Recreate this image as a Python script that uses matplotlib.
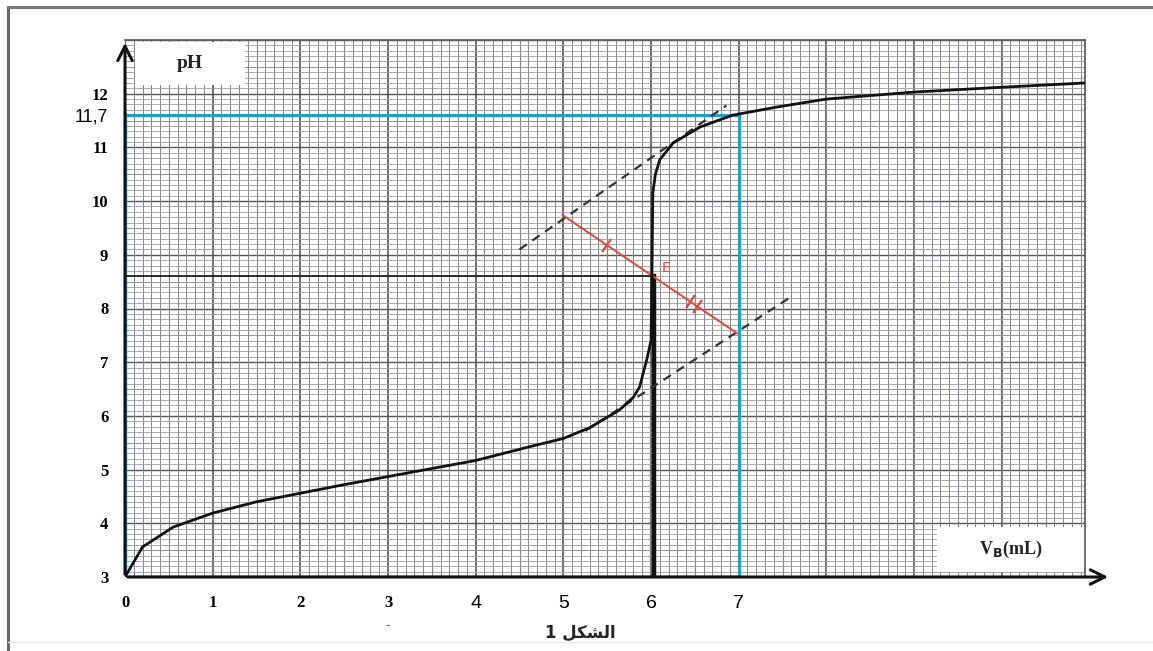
import matplotlib

matplotlib.use("Agg")
import matplotlib.pyplot as plt
from matplotlib.patches import Rectangle
from matplotlib.ticker import MultipleLocator

# titration curve
VB = [0, 0.2, 0.55, 1.0, 1.5, 2.0, 2.5, 3.0, 3.5, 4.0, 4.6, 5.0, 5.3, 5.64, 5.8, 5.87, 5.95,
      6.0, 6.01, 6.02, 6.05, 6.1, 6.25, 6.56, 6.93, 7.43, 8.0, 9.0, 10.0, 10.95]
PH = [3.0, 3.56, 3.93, 4.19, 4.4, 4.56, 4.72, 4.87, 5.02, 5.17, 5.42, 5.58, 5.78, 6.11, 6.35, 6.54, 7.04,
      7.4, 8.6, 10.15, 10.5, 10.77, 11.08, 11.38, 11.6, 11.75, 11.9, 12.03, 12.12, 12.2]

# construction lines (parallel tangents, perpendicular segment, equivalence point)
TAN_UP_X, TAN_UP_Y = [4.5, 6.86], [9.1, 11.78]
TAN_LO_X, TAN_LO_Y = [5.25, 7.58], [5.72, 8.2]
SEG_X, SEG_Y = [4.99, 6.98], [9.74, 7.54]
VE, PHE = 6.03, 8.6
V_END, PH_END = 7.0, 11.6  # marked "11,7" on the sheet

XTICKS = [0, 1, 2, 3, 4, 5, 6, 7]
YTICKS = [3, 4, 5, 6, 7, 8, 9, 10, 11, 12]
CAPTION = "الشكل 1"

CYAN, RED, INK = "#1fa0cc", "#e0483f", "#111111"
FORMS = {"ا": ("\ufe8d", "\ufe8e", None, None), "ل": ("\ufedd", "\ufede", "\ufedf", "\ufee0"),
         "ش": ("\ufeb5", "\ufeb6", "\ufeb7", "\ufeb8"), "ك": ("\ufed9", "\ufeda", "\ufedb", "\ufedc")}


def shape(text):
    # tiny arabic shaper + visual reordering, matplotlib draws left to right
    out = []
    for word in text.split(" "):
        if word and word[0] in FORMS:
            glyphs = []
            for i, ch in enumerate(word):
                prev = i > 0 and FORMS[word[i - 1]][2] is not None
                nxt = i < len(word) - 1 and FORMS[ch][2] is not None
                iso, fin, ini, med = FORMS[ch]
                glyphs.append(med if prev and nxt else fin if prev else ini if nxt else iso)
            out.append("".join(reversed(glyphs)))
        else:
            out.append(word)
    return " ".join(reversed(out))


def main():
    fig = plt.figure(figsize=(11.53, 6.51), dpi=100)
    fig.patch.set_facecolor("white")
    ax = fig.add_axes([125 / 1153, 74 / 651, 960 / 1153, 537 / 651])
    ax.set_xlim(0, 10.95); ax.set_ylim(3, 13)

    # graph paper
    ax.xaxis.set_minor_locator(MultipleLocator(0.1)); ax.yaxis.set_minor_locator(MultipleLocator(0.1))
    ax.grid(which="minor", axis="x", color="#858590", lw=0.7)
    ax.grid(which="minor", axis="y", color="#9a9aa0", lw=0.6)
    for v in [x * 0.5 for x in range(22)]:
        ax.axvline(v, color="#444" if v % 1 == 0 else "#666", lw=1.1 if v % 1 == 0 else 0.8, zorder=0.5)
    for v in [3 + y * 0.5 for y in range(21)]:
        ax.axhline(v, color="#555" if v % 1 == 0 else "#777", lw=1.0 if v % 1 == 0 else 0.7, zorder=0.5)
    ax.set_axisbelow(True)
    for s in ["top", "right"]:
        ax.spines[s].set_color("#555"); ax.spines[s].set_linewidth(1.2)
    for s in ["left", "bottom"]:
        ax.spines[s].set_visible(False)

    # label boxes punched out of the grid
    ax.add_patch(Rectangle((0.11, 12.16), 1.26, 0.8, fc="white", ec="none", zorder=1))
    ax.add_patch(Rectangle((9.26, 3.09), 1.69, 0.84, fc="white", ec="none", zorder=1))
    ax.text(0.74, 12.57, "pH", ha="center", va="center", fontsize=14, fontweight="bold",
            family="Liberation Serif", color="#222", zorder=2)
    ax.text(10.1, 3.52, r"V$_{\mathbf{B}}$(mL)", ha="center", va="center", fontsize=13, fontweight="bold",
            family="Liberation Serif", color="#222", zorder=2)

    # reading lines
    ax.plot([0, V_END, V_END], [PH_END, PH_END, 3], color=CYAN, lw=2.2, zorder=3)
    ax.plot([0, 0], [3, PH_END], color=CYAN, lw=2.5, zorder=3)
    ax.plot([0, V_END], [3, 3], color="#16606e", lw=2.5, zorder=3)
    ax.plot([0, VE], [PHE, PHE], color=INK, lw=1.2, zorder=3)
    ax.plot([VE, VE], [3, PHE], color=INK, lw=3.2, zorder=3)

    # tangents and perpendicular
    ax.plot(TAN_UP_X, TAN_UP_Y, color="#333", lw=1.6, ls=(0, (4, 3)), zorder=4)
    ax.plot(TAN_LO_X, TAN_LO_Y, color="#333", lw=1.6, ls=(0, (4, 3)), zorder=4)
    ax.plot(SEG_X, SEG_Y, color=RED, lw=1.4, zorder=4)
    for t in [0.25, 0.73, 0.77]:
        ax.plot(SEG_X[0] + t * (SEG_X[1] - SEG_X[0]), SEG_Y[0] + t * (SEG_Y[1] - SEG_Y[0]),
                marker=(2, 2, -34), ms=11, mew=1.3, color=RED, zorder=4)
    ax.text(6.17, 8.75, "E", color=RED, fontsize=10, ha="center", va="center", zorder=5)

    ax.plot(VB, PH, color=INK, lw=2.0, zorder=5)

    # axes with arrow heads
    ax.annotate("", xy=(0, 1.0), xytext=(0, 0), xycoords="axes fraction",
                arrowprops=dict(arrowstyle="->", lw=2.2, color=INK, mutation_scale=26), zorder=6)
    ax.annotate("", xy=(1.027, 0), xytext=(0, 0), xycoords="axes fraction",
                arrowprops=dict(arrowstyle="->", lw=2.2, color=INK, mutation_scale=26), zorder=6)

    # tick labels
    ax.tick_params(which="both", length=0)
    ax.set_xticks(XTICKS); ax.set_xticklabels([str(v) for v in XTICKS])
    ax.set_yticks(YTICKS + [PH_END]); ax.set_yticklabels([str(v) for v in YTICKS] + ["11,7"])
    ax.tick_params(axis="x", pad=13); ax.tick_params(axis="y", pad=12)
    for lab in ax.get_xticklabels():
        if int(lab.get_text()) <= 3:
            lab.set_fontfamily("Liberation Serif"); lab.set_fontweight("bold"); lab.set_fontsize(12)
        else:
            lab.set_fontfamily("Liberation Sans"); lab.set_fontsize(14)
    for lab in ax.get_yticklabels():
        if lab.get_text() == "11,7":
            lab.set_fontfamily("Liberation Sans"); lab.set_fontsize(13)
        else:
            lab.set_fontfamily("Liberation Serif"); lab.set_fontweight("bold"); lab.set_fontsize(12)
    ax.text(3, 2.1, "-", ha="center", va="center", fontsize=9, color="#555", clip_on=False)

    fig.text(580 / 1153, 1 - 633 / 651, shape(CAPTION), ha="center", va="center", fontsize=12,
             fontweight="bold", family=["DejaVu Sans"], color="#222")

    # scan frame
    fig.add_artist(plt.Line2D([8 / 1153, 8 / 1153], [0, 1 - 7 / 651], color="#666", lw=2.2))
    fig.add_artist(plt.Line2D([8 / 1153, 1], [1 - 7 / 651, 1 - 7 / 651], color="#777", lw=2.2))
    fig.add_artist(plt.Line2D([8 / 1153, 1], [9 / 651, 9 / 651], color="#e6e6e6", lw=1))

    fig.savefig("out.png", dpi=100, facecolor="white")
    plt.close(fig)


if __name__ == "__main__":
    main()
